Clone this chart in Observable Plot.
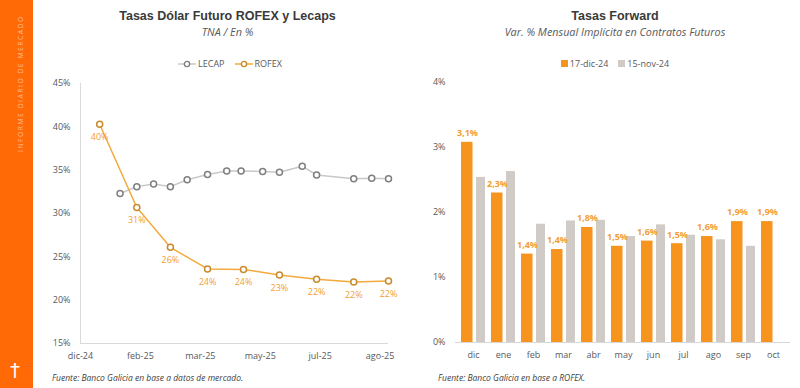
<!DOCTYPE html>
<html><head><meta charset="utf-8">
<script src="https://cdn.jsdelivr.net/npm/d3@7"></script>
<script src="https://cdn.jsdelivr.net/npm/@observablehq/plot@0.6"></script>
<style>
body{margin:0;width:800px;height:388px;overflow:hidden;background:#fff;font-family:"Open Sans",sans-serif;position:relative;color:#404040}
.abs{position:absolute}
.stripe{left:0;top:0;width:33px;height:388px;background:#ff6a07}
.vtext{left:20px;top:152px;transform-origin:0 0;transform:rotate(-90deg) translateY(-50%);white-space:nowrap;font-size:6.8px;letter-spacing:1.5px;color:rgba(255,255,255,0.55);font-family:"Open Sans",sans-serif}
.dagger{left:0;width:30px;top:358px;text-align:center;color:#fff;font-size:20px;line-height:24px;font-family:"DejaVu Sans",sans-serif}
.title{font-family:"Liberation Sans",Arial,sans-serif;font-weight:bold;font-size:12.5px;color:#3a3a3a;text-align:center;white-space:nowrap}
.sub{font-style:italic;font-size:10.8px;color:#595959;text-align:center;white-space:nowrap}
.legend{font-size:9px;color:#595959;display:flex;justify-content:center;align-items:center;gap:10px;white-space:nowrap}
.legend span{display:inline-flex;align-items:center;gap:2px}
.src{font-style:italic;font-size:8.5px;color:#404040;white-space:nowrap}
</style></head><body>
<div class="abs stripe"></div>
<div class="abs vtext">INFORME DIARIO DE MERCADO</div>
<div class="abs dagger">†</div>

<div class="abs title" style="left:35px;width:385px;top:9px">Tasas Dólar Futuro ROFEX y Lecaps</div>
<div class="abs sub" style="left:35px;width:385px;top:24px">TNA / En %</div>
<div class="abs legend" id="legL" style="left:35px;width:390px;top:57px"></div>
<div class="abs" id="chartL" style="left:35px;top:70px"></div>
<div class="abs src" style="left:52px;top:372px">Fuente: Banco Galicia en base a datos de mercado.</div>

<div class="abs title" style="left:415px;width:400px;top:9px">Tasas Forward</div>
<div class="abs sub" style="left:415px;width:400px;top:24px">Var. % Mensual Implícita en Contratos Futuros</div>
<div class="abs legend" id="legR" style="left:415px;width:400px;top:57px"></div>
<div class="abs" id="chartR" style="left:400px;top:70px"></div>
<div class="abs src" style="left:438px;top:372px">Fuente: Banco Galicia en base a ROFEX.</div>

<script>
// ---- Left chart data ----
const rofexDates = ["2024-12-31","2025-01-31","2025-02-28","2025-03-31","2025-04-30","2025-05-30","2025-06-30","2025-07-31","2025-08-29"];
const rofexValues = [40.3,30.7,26.1,23.6,23.55,22.9,22.4,22.1,22.2];
const lecapDates = ["2025-01-17","2025-01-31","2025-02-14","2025-02-28","2025-03-14","2025-03-31","2025-04-16","2025-04-28","2025-05-16","2025-05-30","2025-06-18","2025-06-30","2025-07-31","2025-08-15","2025-08-29"];
const lecapValues = [32.3,33.1,33.4,33.1,33.9,34.5,34.9,34.9,34.85,34.75,35.45,34.45,34.0,34.07,34.0];
const leftDomain = ["2024-12-15","2025-08-29"];
const leftTickDates = ["2024-12-15","2025-02-03","2025-03-25","2025-05-14","2025-07-03","2025-08-22"];
const leftTickLabels = ["dic-24","feb-25","mar-25","may-25","jul-25","ago-25"];
const leftYTicks = [15,20,25,30,35,40,45];
const lineSeries = ["LECAP","ROFEX"];

// ---- Right chart data ----
const months = ["dic","ene","feb","mar","abr","may","jun","jul","ago","sep","oct"];
const dic17 = [3.08,2.30,1.36,1.43,1.77,1.48,1.56,1.52,1.63,1.86,1.86];
const nov15 = [2.54,2.63,1.82,1.87,1.88,1.63,1.81,1.65,1.58,1.48,null];
const barSeries = ["17-dic-24","15-nov-24"];
const rightYTicks = [0,1,2,3,4];

const C = {orange:"#f7941d", gray:"#d1cbc7", rofexLine:"#f2aa3c", rofexDot:"#c98a2c", lecapLine:"#c8c8c8", lecapDot:"#7f7f7f", label:"#f3a032", axis:"#d9d9d9", tick:"#595959"};

const D = s => new Date(s + "T00:00:00Z");
const rofex = rofexDates.map((d,i)=>({date:D(d), value:rofexValues[i]}));
const lecap = lecapDates.map((d,i)=>({date:D(d), value:lecapValues[i]}));
const tickD = leftTickDates.map(D);

const left = Plot.plot({
  width:365, height:300, marginLeft:45, marginRight:12, marginTop:13, marginBottom:27,
  style:{fontFamily:"Open Sans, sans-serif", fontSize:"9px", color:C.tick, background:"transparent"},
  x:{type:"utc", domain:leftDomain.map(D), ticks:tickD, tickFormat:d=>leftTickLabels[tickD.findIndex(t=>+t===+d)], tickSize:0, tickPadding:9, label:null},
  y:{domain:[15,45], ticks:leftYTicks, tickFormat:d=>d+"%", tickSize:0, tickPadding:10, label:null},
  marks:[
    Plot.ruleX([D(leftDomain[0])], {stroke:C.axis}),
    Plot.ruleY([15], {stroke:C.axis}),
    Plot.line(lecap, {x:"date", y:"value", stroke:C.lecapLine, strokeWidth:1.5}),
    Plot.dot(lecap, {x:"date", y:"value", r:3, stroke:C.lecapDot, strokeWidth:1.5, fill:"white"}),
    Plot.line(rofex, {x:"date", y:"value", stroke:C.rofexLine, strokeWidth:1.5}),
    Plot.dot(rofex, {x:"date", y:"value", r:3, stroke:C.rofexDot, strokeWidth:1.5, fill:"white"}),
    Plot.text(rofex, {x:"date", y:"value", text:d=>Math.round(d.value)+"%", dy:13, fill:C.label, fontSize:9})
  ]
});
document.getElementById("chartL").appendChild(left);

const bars = [];
months.forEach((m,i)=>{
  bars.push({month:m, series:barSeries[0], value:dic17[i]});
  if (nov15[i] != null) bars.push({month:m, series:barSeries[1], value:nov15[i]});
});
const orangeBars = bars.filter(b=>b.series===barSeries[0]);
const grayBars = bars.filter(b=>b.series===barSeries[1]);
const fmt = v => v.toFixed(1).replace(".", ",") + "%";

const right = Plot.plot({
  width:400, height:300, marginLeft:55, marginRight:10, marginTop:12, marginBottom:28,
  style:{fontFamily:"Open Sans, sans-serif", fontSize:"9px", color:C.tick, background:"transparent"},
  x:{domain:months, padding:0, tickSize:0, tickPadding:9, label:null},
  y:{domain:[0,4], ticks:rightYTicks, tickFormat:d=>d+"%", tickSize:0, tickPadding:10, label:null},
  marks:[
    Plot.barY(orangeBars, {x:"month", y:"value", fill:C.orange, insetLeft:3, insetRight:15.5}),
    Plot.barY(grayBars, {x:"month", y:"value", fill:C.gray, insetLeft:18, insetRight:3}),
    Plot.ruleY([0], {stroke:C.axis}),
    Plot.text(orangeBars, {x:"month", y:"value", text:d=>fmt(d.value), dx:-6, dy:-9, fill:C.label, fontSize:9, fontWeight:"bold"})
  ]
});
document.getElementById("chartR").appendChild(right);

// legends
const legL = document.getElementById("legL");
lineSeries.forEach(s=>{
  const line = s==="LECAP" ? C.lecapLine : C.rofexLine;
  const dot = s==="LECAP" ? C.lecapDot : C.rofexDot;
  const el = document.createElement("span");
  el.innerHTML = `<svg width="18" height="8"><line x1="0" y1="4" x2="18" y2="4" stroke="${line}" stroke-width="1.5"/><circle cx="9" cy="4" r="2.6" fill="white" stroke="${dot}" stroke-width="1.4"/></svg>${s}`;
  legL.appendChild(el);
});
const legR = document.getElementById("legR");
barSeries.forEach((s,i)=>{
  const el = document.createElement("span");
  el.innerHTML = `<svg width="7" height="7"><rect width="7" height="7" fill="${i===0?C.orange:C.gray}"/></svg>${s}`;
  legR.appendChild(el);
});
</script>
</body></html>
